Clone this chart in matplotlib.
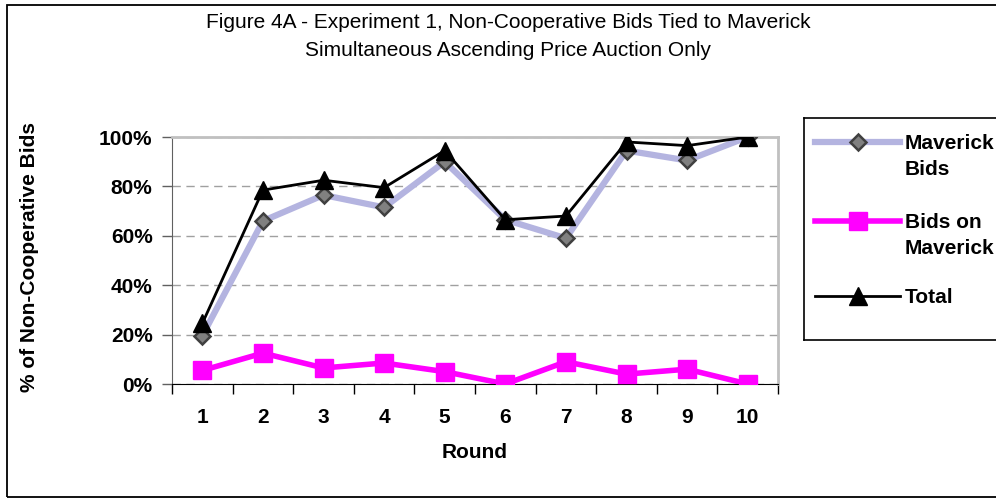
import matplotlib.pyplot as plt
from matplotlib.lines import Line2D
from matplotlib.patches import Rectangle
from matplotlib.ticker import FuncFormatter

plt.rcParams['font.family'] = ['Liberation Sans', 'DejaVu Sans']

rounds = ['1', '2', '3', '4', '5', '6', '7', '8', '9', '10']
maverick_bids = [19.5, 66, 76.5, 71.5, 90, 66.5, 59, 94.5, 90.5, 100]
bids_on_maverick = [5.5, 12.5, 6.5, 8.5, 5, 0, 9, 4, 6, 0]
total = [24.5, 78.5, 82.5, 79.5, 94.5, 66.5, 68, 98, 96.5, 100]

W, H = 996, 498
FS = 15
fig = plt.figure(figsize=(W / 100, H / 100), dpi=100)

# rahmen um das ganze diagramm
fig.add_artist(Rectangle((7 / W, 1.5 / H), 1.2, 491 / H,
                         transform=fig.transFigure, fill=False,
                         edgecolor='black', lw=1.3))

ax = fig.add_axes([172 / W, 1 - 384 / H, (778 - 172) / W, (384 - 137) / H])
x = list(range(1, len(rounds) + 1))

ax.plot(x, maverick_bids, color='#b4b4e0', lw=4.5, marker='D', ms=8.5,
        mfc='#808080', mec='#404040', mew=1.8, zorder=3)
ax.plot(x, bids_on_maverick, color='#ff00ff', lw=4, marker='s', ms=13,
        mfc='#ff00ff', mec='#ff00ff', zorder=4)
ax.plot(x, total, color='black', lw=2, marker='^', ms=13, zorder=5)

ax.set_xlim(0.5, len(rounds) + 0.5)
ax.set_ylim(0, 100)
ax.set_yticks([0, 20, 40, 60, 80, 100])
ax.yaxis.set_major_formatter(FuncFormatter(lambda v, p: f'{int(v)}%'))
ax.set_xticks(x)
ax.set_xticklabels(rounds)
ax.set_xticks([i + 0.5 for i in range(len(rounds) + 1)], minor=True)
ax.tick_params(axis='x', which='major', length=0, pad=17, labelsize=FS)
ax.tick_params(axis='x', which='minor', length=7, width=1, direction='out')
ax.tick_params(axis='y', length=7, width=1, direction='out', pad=7,
               labelsize=FS, color='#606060')
for lab in ax.get_xticklabels() + ax.get_yticklabels():
    lab.set_fontweight('bold')

ax.grid(axis='y', color='#a0a0a0', ls=(0, (6, 4)), lw=1)
ax.set_axisbelow(True)
ax.spines['top'].set_color('#c0c0c0')
ax.spines['right'].set_color('#c0c0c0')
ax.spines['top'].set_linewidth(2)
ax.spines['right'].set_linewidth(2)
ax.spines['left'].set_color('#606060')
ax.spines['bottom'].set_color('black')

ax.set_xlabel('Round', fontsize=FS, fontweight='bold', labelpad=12)
fig.text(30 / W, 1 - 257 / H, '% of Non-Cooperative Bids', rotation=90,
         ha='center', va='center', fontsize=FS, fontweight='bold')

fig.text(508 / W, 1 - 22 / H, 'Figure 4A - Experiment 1, Non-Cooperative Bids Tied to Maverick',
         ha='center', va='center', fontsize=FS)
fig.text(508 / W, 1 - 50 / H, 'Simultaneous Ascending Price Auction Only',
         ha='center', va='center', fontsize=FS)

# legende von hand, damit das symbol auf der ersten zeile sitzt
lg = fig.add_axes([804 / W, 1 - 340 / H, 300 / W, (340 - 118) / H])
lg.set_xlim(804, 1104)
lg.set_ylim(340, 118)
lg.set_xticks([])
lg.set_yticks([])
for s in lg.spines.values():
    s.set_color('black')
    s.set_linewidth(1.2)

legend_items = [
    ('Maverick\nBids', dict(color='#b4b4e0', lw=4.5, marker='D', ms=8.5,
                            mfc='#808080', mec='#404040', mew=1.8), 142),
    ('Bids on\nMaverick', dict(color='#ff00ff', lw=4, marker='s', ms=13,
                               mfc='#ff00ff', mec='#ff00ff'), 221),
    ('Total', dict(color='black', lw=2, marker='^', ms=13), 296),
]
for label, style, yy in legend_items:
    lg.add_line(Line2D([815, 900], [yy, yy], markevery=[], **style))
    lg.add_line(Line2D([858], [yy], **style))
    lg.text(905, yy - 8, label, ha='left', va='top', fontsize=FS,
            fontweight='bold', linespacing=1.45)

fig.savefig('out.png', dpi=100)
